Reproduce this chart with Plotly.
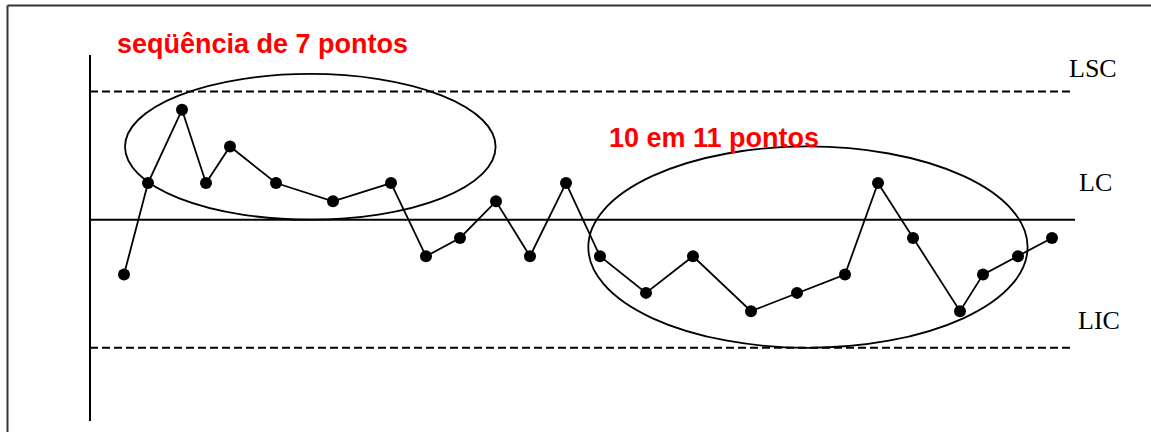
import plotly.graph_objects as go

# Data (x: horizontal position, y: level in steps from LC)
x_pos = [34, 58, 92, 116, 140, 186, 243, 301, 336, 370, 406, 440, 476,
         510, 556, 603, 661, 707, 755, 788, 823, 870, 893, 928, 962]
y_val = [-3, 2, 6, 2, 4, 2, 1, 2, -2, -1, 1, -2, 2,
         -2, -4, -2, -5, -4, -3, 2, -1, -5, -3, -2, -1]

LSC, LC, LIC = 7, 0, -7
limit_labels = ["LSC", "LC", "LIC"]
limit_values = [LSC, LC, LIC]
limit_label_y = [8.26, 2.02, -5.52]
note1 = "seqüência de 7 pontos"
note2 = "10 em 11 pontos"

fig = go.Figure()
fig.add_trace(go.Scatter(
    x=x_pos, y=y_val, mode="lines+markers",
    line=dict(color="black", width=1.8),
    marker=dict(color="black", size=12),
    showlegend=False, hoverinfo="skip"))

shapes = []
# control limit lines
shapes.append(dict(type="line", xref="x", yref="y", x0=0, x1=981, y0=LSC, y1=LSC,
                   line=dict(color="black", width=2, dash="8px,4px")))
shapes.append(dict(type="line", xref="x", yref="y", x0=0, x1=985, y0=LC, y1=LC,
                   line=dict(color="black", width=2)))
shapes.append(dict(type="line", xref="x", yref="y", x0=0, x1=981, y0=LIC, y1=LIC,
                   line=dict(color="black", width=2, dash="8px,4px")))
# vertical axis
shapes.append(dict(type="line", xref="x", yref="y", x0=0, x1=0, y0=9.0, y1=-11.0,
                   line=dict(color="black", width=2)))
# ellipses
shapes.append(dict(type="circle", xref="x", yref="y", x0=35, x1=405.6, y0=0, y1=7.96,
                   line=dict(color="black", width=1.8)))
shapes.append(dict(type="circle", xref="x", yref="y", x0=498.3, x1=937.6, y0=-7, y1=4,
                   line=dict(color="black", width=1.8)))
# outer frame (only left and top edges visible)
fx, fy = 7.5 / 1151, 1 - 5.5 / 432
shapes.append(dict(type="line", xref="paper", yref="paper", x0=fx, x1=fx, y0=0, y1=fy,
                   line=dict(color="#333333", width=2)))
shapes.append(dict(type="line", xref="paper", yref="paper", x0=fx, x1=1.0, y0=fy, y1=fy,
                   line=dict(color="#333333", width=2)))

annotations = [
    dict(text=f"<b>{note1}</b>", x=25, y=9.58, xref="x", yref="y", xanchor="left",
         yanchor="middle", showarrow=False,
         font=dict(family="Liberation Sans", size=27, color="#FF0000")),
    dict(text=f"<b>{note2}</b>", x=516.6, y=4.46, xref="x", yref="y", xanchor="left",
         yanchor="middle", showarrow=False,
         font=dict(family="Liberation Sans", size=27, color="#FF0000")),
]
lab_x = [976.6, 987, 986]
for lab, lx, ly in zip(limit_labels, lab_x, limit_label_y):
    annotations.append(dict(text=lab, x=lx, y=ly, xref="x", yref="y", xanchor="left",
                            yanchor="middle", showarrow=False,
                            font=dict(family="Liberation Serif", size=26, color="black")))

fig.update_layout(
    width=1151, height=432,
    margin=dict(l=0, r=0, t=0, b=0, pad=0),
    paper_bgcolor="white", plot_bgcolor="white",
    xaxis=dict(range=[-90, 1061], visible=False, fixedrange=True),
    yaxis=dict(range=[-11.6, 12.0], visible=False, fixedrange=True),
    shapes=shapes, annotations=annotations,
)
fig.write_html("out.html", config={"displayModeBar": False, "responsive": False},
               post_script="document.body.style.margin='0';document.body.style.padding='0';"
                           "document.documentElement.style.overflow='hidden';"
                           "document.body.style.overflow='hidden';")
